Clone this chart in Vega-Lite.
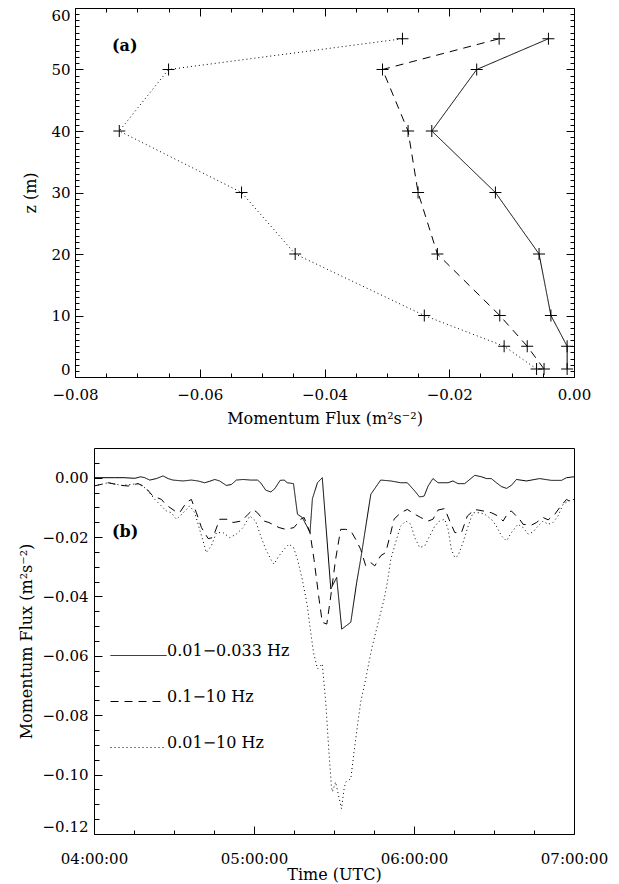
{
  "$schema": "https://vega.github.io/schema/vega-lite/v6.json",
  "padding": {"left": 17, "top": 7, "right": 0, "bottom": 0},
  "config": {
    "font": "DejaVu Serif",
    "view": {"stroke": "black", "strokeWidth": 1},
    "axis": {"domain": false, "grid": false, "tickColor": "black", "tickWidth": 1, "labelColor": "black", "titleColor": "black", "labelFont": "DejaVu Serif", "titleFont": "DejaVu Serif", "labelFontSize": 15, "titleFontSize": 16, "titleFontWeight": "normal", "labelFontWeight": "normal"}
  },
  "datasets": {
    "prof": [
      {"f": -0.0275, "z": 55, "s": "0.01−10 Hz"}, {"f": -0.0650, "z": 50, "s": "0.01−10 Hz"}, {"f": -0.0729, "z": 40, "s": "0.01−10 Hz"}, {"f": -0.0533, "z": 30, "s": "0.01−10 Hz"},
      {"f": -0.0447, "z": 20, "s": "0.01−10 Hz"}, {"f": -0.0240, "z": 10, "s": "0.01−10 Hz"}, {"f": -0.0112, "z": 5, "s": "0.01−10 Hz"}, {"f": -0.0060, "z": 1.3, "s": "0.01−10 Hz"},
      {"f": -0.0120, "z": 55, "s": "0.1−10 Hz"}, {"f": -0.0307, "z": 50, "s": "0.1−10 Hz"}, {"f": -0.0266, "z": 40, "s": "0.1−10 Hz"}, {"f": -0.0250, "z": 30, "s": "0.1−10 Hz"},
      {"f": -0.0219, "z": 20, "s": "0.1−10 Hz"}, {"f": -0.0119, "z": 10, "s": "0.1−10 Hz"}, {"f": -0.0075, "z": 5, "s": "0.1−10 Hz"}, {"f": -0.0048, "z": 1.3, "s": "0.1−10 Hz"},
      {"f": -0.0041, "z": 55, "s": "0.01−0.033 Hz"}, {"f": -0.0156, "z": 50, "s": "0.01−0.033 Hz"}, {"f": -0.0228, "z": 40, "s": "0.01−0.033 Hz"}, {"f": -0.0126, "z": 30, "s": "0.01−0.033 Hz"},
      {"f": -0.0056, "z": 20, "s": "0.01−0.033 Hz"}, {"f": -0.0037, "z": 10, "s": "0.01−0.033 Hz"}, {"f": -0.0011, "z": 5, "s": "0.01−0.033 Hz"}, {"f": -0.0011, "z": 1.3, "s": "0.01−0.033 Hz"}
    ],
    "ts": [
      {"t": 0, "v": 0.0000, "s": "0.01−0.033 Hz"}, {"t": 7.8, "v": 0.0000, "s": "0.01−0.033 Hz"}, {"t": 11.3, "v": 0.0000, "s": "0.01−0.033 Hz"}, {"t": 15.3, "v": -0.0002, "s": "0.01−0.033 Hz"},
      {"t": 17.5, "v": 0.0003, "s": "0.01−0.033 Hz"}, {"t": 19, "v": 0.0000, "s": "0.01−0.033 Hz"}, {"t": 20.9, "v": -0.0008, "s": "0.01−0.033 Hz"}, {"t": 23.4, "v": -0.0003, "s": "0.01−0.033 Hz"},
      {"t": 25.9, "v": 0.0006, "s": "0.01−0.033 Hz"}, {"t": 27.8, "v": -0.0003, "s": "0.01−0.033 Hz"}, {"t": 29.6, "v": -0.0008, "s": "0.01−0.033 Hz"}, {"t": 33.4, "v": -0.0011, "s": "0.01−0.033 Hz"},
      {"t": 36.5, "v": -0.0008, "s": "0.01−0.033 Hz"}, {"t": 39, "v": -0.0011, "s": "0.01−0.033 Hz"}, {"t": 41.5, "v": -0.0017, "s": "0.01−0.033 Hz"}, {"t": 43.4, "v": -0.0012, "s": "0.01−0.033 Hz"},
      {"t": 45.3, "v": -0.0006, "s": "0.01−0.033 Hz"}, {"t": 47.1, "v": -0.0011, "s": "0.01−0.033 Hz"}, {"t": 49.6, "v": -0.0026, "s": "0.01−0.033 Hz"}, {"t": 51.5, "v": -0.0023, "s": "0.01−0.033 Hz"},
      {"t": 53.4, "v": -0.0008, "s": "0.01−0.033 Hz"}, {"t": 55.9, "v": -0.0006, "s": "0.01−0.033 Hz"}, {"t": 58.8, "v": -0.0008, "s": "0.01−0.033 Hz"}, {"t": 61.3, "v": -0.0008, "s": "0.01−0.033 Hz"},
      {"t": 62.5, "v": -0.0017, "s": "0.01−0.033 Hz"}, {"t": 64.4, "v": -0.0042, "s": "0.01−0.033 Hz"}, {"t": 66.3, "v": -0.0048, "s": "0.01−0.033 Hz"}, {"t": 67.8, "v": -0.0037, "s": "0.01−0.033 Hz"},
      {"t": 69.8, "v": -0.0009, "s": "0.01−0.033 Hz"}, {"t": 71.3, "v": -0.0008, "s": "0.01−0.033 Hz"}, {"t": 72.5, "v": -0.0017, "s": "0.01−0.033 Hz"}, {"t": 74.8, "v": -0.0020, "s": "0.01−0.033 Hz"},
      {"t": 76.3, "v": -0.0123, "s": "0.01−0.033 Hz"}, {"t": 78.1, "v": -0.0134, "s": "0.01−0.033 Hz"}, {"t": 79.8, "v": -0.0163, "s": "0.01−0.033 Hz"}, {"t": 81, "v": -0.0185, "s": "0.01−0.033 Hz"},
      {"t": 81.9, "v": -0.0071, "s": "0.01−0.033 Hz"}, {"t": 83.8, "v": -0.0017, "s": "0.01−0.033 Hz"}, {"t": 85.6, "v": 0.0000, "s": "0.01−0.033 Hz"}, {"t": 88.8, "v": -0.0375, "s": "0.01−0.033 Hz"},
      {"t": 91, "v": -0.0336, "s": "0.01−0.033 Hz"}, {"t": 92.9, "v": -0.0510, "s": "0.01−0.033 Hz"}, {"t": 96.3, "v": -0.0487, "s": "0.01−0.033 Hz"}, {"t": 98.5, "v": -0.0353, "s": "0.01−0.033 Hz"},
      {"t": 100, "v": -0.0275, "s": "0.01−0.033 Hz"}, {"t": 103.8, "v": -0.0056, "s": "0.01−0.033 Hz"}, {"t": 107.5, "v": -0.0008, "s": "0.01−0.033 Hz"}, {"t": 111.3, "v": -0.0011, "s": "0.01−0.033 Hz"},
      {"t": 115, "v": -0.0017, "s": "0.01−0.033 Hz"}, {"t": 117.5, "v": -0.0017, "s": "0.01−0.033 Hz"}, {"t": 120.3, "v": -0.0045, "s": "0.01−0.033 Hz"}, {"t": 122.1, "v": -0.0065, "s": "0.01−0.033 Hz"},
      {"t": 123.8, "v": -0.0062, "s": "0.01−0.033 Hz"}, {"t": 125.3, "v": -0.0028, "s": "0.01−0.033 Hz"}, {"t": 127.1, "v": -0.0003, "s": "0.01−0.033 Hz"}, {"t": 129, "v": -0.0017, "s": "0.01−0.033 Hz"},
      {"t": 132.8, "v": -0.0017, "s": "0.01−0.033 Hz"}, {"t": 134.6, "v": -0.0011, "s": "0.01−0.033 Hz"}, {"t": 136.5, "v": -0.0020, "s": "0.01−0.033 Hz"}, {"t": 139, "v": -0.0020, "s": "0.01−0.033 Hz"},
      {"t": 140.9, "v": -0.0006, "s": "0.01−0.033 Hz"}, {"t": 142.8, "v": 0.0008, "s": "0.01−0.033 Hz"}, {"t": 145.3, "v": 0.0003, "s": "0.01−0.033 Hz"}, {"t": 147.2, "v": -0.0003, "s": "0.01−0.033 Hz"},
      {"t": 149, "v": -0.0003, "s": "0.01−0.033 Hz"}, {"t": 150.9, "v": -0.0017, "s": "0.01−0.033 Hz"}, {"t": 152.8, "v": -0.0030, "s": "0.01−0.033 Hz"}, {"t": 154.7, "v": -0.0036, "s": "0.01−0.033 Hz"},
      {"t": 156.5, "v": -0.0026, "s": "0.01−0.033 Hz"}, {"t": 158.4, "v": -0.0006, "s": "0.01−0.033 Hz"}, {"t": 162.2, "v": -0.0011, "s": "0.01−0.033 Hz"}, {"t": 167.1, "v": -0.0003, "s": "0.01−0.033 Hz"},
      {"t": 171.5, "v": -0.0009, "s": "0.01−0.033 Hz"}, {"t": 175.3, "v": -0.0009, "s": "0.01−0.033 Hz"}, {"t": 177.2, "v": 0.0000, "s": "0.01−0.033 Hz"}, {"t": 180, "v": 0.0003, "s": "0.01−0.033 Hz"},

      {"t": 0, "v": -0.0028, "s": "0.1−10 Hz"}, {"t": 5.3, "v": -0.0017, "s": "0.1−10 Hz"}, {"t": 10.3, "v": -0.0026, "s": "0.1−10 Hz"}, {"t": 12.8, "v": -0.0028, "s": "0.1−10 Hz"},
      {"t": 16.5, "v": -0.0020, "s": "0.1−10 Hz"}, {"t": 19, "v": -0.0030, "s": "0.1−10 Hz"}, {"t": 22.1, "v": -0.0062, "s": "0.1−10 Hz"}, {"t": 25.3, "v": -0.0073, "s": "0.1−10 Hz"},
      {"t": 26.8, "v": -0.0090, "s": "0.1−10 Hz"}, {"t": 30.3, "v": -0.0112, "s": "0.1−10 Hz"}, {"t": 32.1, "v": -0.0118, "s": "0.1−10 Hz"}, {"t": 34.6, "v": -0.0084, "s": "0.1−10 Hz"},
      {"t": 36.5, "v": -0.0073, "s": "0.1−10 Hz"}, {"t": 38.4, "v": -0.0118, "s": "0.1−10 Hz"}, {"t": 40.3, "v": -0.0168, "s": "0.1−10 Hz"}, {"t": 42.8, "v": -0.0205, "s": "0.1−10 Hz"},
      {"t": 44.6, "v": -0.0202, "s": "0.1−10 Hz"}, {"t": 47.1, "v": -0.0140, "s": "0.1−10 Hz"}, {"t": 50.3, "v": -0.0140, "s": "0.1−10 Hz"}, {"t": 52.1, "v": -0.0151, "s": "0.1−10 Hz"},
      {"t": 55.3, "v": -0.0146, "s": "0.1−10 Hz"}, {"t": 57.8, "v": -0.0123, "s": "0.1−10 Hz"}, {"t": 59.6, "v": -0.0107, "s": "0.1−10 Hz"}, {"t": 61.3, "v": -0.0118, "s": "0.1−10 Hz"},
      {"t": 63.8, "v": -0.0146, "s": "0.1−10 Hz"}, {"t": 65.6, "v": -0.0151, "s": "0.1−10 Hz"}, {"t": 69.4, "v": -0.0168, "s": "0.1−10 Hz"}, {"t": 71.9, "v": -0.0174, "s": "0.1−10 Hz"},
      {"t": 75, "v": -0.0168, "s": "0.1−10 Hz"}, {"t": 77.5, "v": -0.0140, "s": "0.1−10 Hz"}, {"t": 78.8, "v": -0.0134, "s": "0.1−10 Hz"}, {"t": 81, "v": -0.0185, "s": "0.1−10 Hz"},
      {"t": 82.5, "v": -0.0275, "s": "0.1−10 Hz"}, {"t": 84.4, "v": -0.0409, "s": "0.1−10 Hz"}, {"t": 85.6, "v": -0.0487, "s": "0.1−10 Hz"}, {"t": 87.3, "v": -0.0493, "s": "0.1−10 Hz"},
      {"t": 88.8, "v": -0.0398, "s": "0.1−10 Hz"}, {"t": 90.6, "v": -0.0275, "s": "0.1−10 Hz"}, {"t": 92.5, "v": -0.0174, "s": "0.1−10 Hz"}, {"t": 94.4, "v": -0.0174, "s": "0.1−10 Hz"},
      {"t": 96.3, "v": -0.0179, "s": "0.1−10 Hz"}, {"t": 98.1, "v": -0.0207, "s": "0.1−10 Hz"}, {"t": 100, "v": -0.0241, "s": "0.1−10 Hz"}, {"t": 101.9, "v": -0.0297, "s": "0.1−10 Hz"},
      {"t": 103.8, "v": -0.0286, "s": "0.1−10 Hz"}, {"t": 105.3, "v": -0.0297, "s": "0.1−10 Hz"}, {"t": 107.5, "v": -0.0263, "s": "0.1−10 Hz"}, {"t": 109.4, "v": -0.0252, "s": "0.1−10 Hz"},
      {"t": 111.3, "v": -0.0185, "s": "0.1−10 Hz"}, {"t": 112.5, "v": -0.0140, "s": "0.1−10 Hz"}, {"t": 115, "v": -0.0118, "s": "0.1−10 Hz"}, {"t": 117.5, "v": -0.0107, "s": "0.1−10 Hz"},
      {"t": 120.3, "v": -0.0123, "s": "0.1−10 Hz"}, {"t": 122.5, "v": -0.0134, "s": "0.1−10 Hz"}, {"t": 125.3, "v": -0.0146, "s": "0.1−10 Hz"}, {"t": 127.1, "v": -0.0140, "s": "0.1−10 Hz"},
      {"t": 129, "v": -0.0109, "s": "0.1−10 Hz"}, {"t": 131.5, "v": -0.0104, "s": "0.1−10 Hz"}, {"t": 133.4, "v": -0.0146, "s": "0.1−10 Hz"}, {"t": 135.3, "v": -0.0185, "s": "0.1−10 Hz"},
      {"t": 137.8, "v": -0.0185, "s": "0.1−10 Hz"}, {"t": 140, "v": -0.0129, "s": "0.1−10 Hz"}, {"t": 142.8, "v": -0.0107, "s": "0.1−10 Hz"}, {"t": 145.9, "v": -0.0112, "s": "0.1−10 Hz"},
      {"t": 149, "v": -0.0118, "s": "0.1−10 Hz"}, {"t": 151.5, "v": -0.0129, "s": "0.1−10 Hz"}, {"t": 153.4, "v": -0.0146, "s": "0.1−10 Hz"}, {"t": 155.3, "v": -0.0118, "s": "0.1−10 Hz"},
      {"t": 156.5, "v": -0.0112, "s": "0.1−10 Hz"}, {"t": 159.6, "v": -0.0140, "s": "0.1−10 Hz"}, {"t": 160.9, "v": -0.0157, "s": "0.1−10 Hz"}, {"t": 164, "v": -0.0160, "s": "0.1−10 Hz"},
      {"t": 165.9, "v": -0.0151, "s": "0.1−10 Hz"}, {"t": 168.4, "v": -0.0134, "s": "0.1−10 Hz"}, {"t": 170.3, "v": -0.0142, "s": "0.1−10 Hz"}, {"t": 172.8, "v": -0.0123, "s": "0.1−10 Hz"},
      {"t": 174.6, "v": -0.0101, "s": "0.1−10 Hz"}, {"t": 177.2, "v": -0.0073, "s": "0.1−10 Hz"}, {"t": 179, "v": -0.0084, "s": "0.1−10 Hz"}, {"t": 180, "v": -0.0082, "s": "0.1−10 Hz"},

      {"t": 0, "v": -0.0028, "s": "0.01−10 Hz"}, {"t": 5.3, "v": -0.0017, "s": "0.01−10 Hz"}, {"t": 10.3, "v": -0.0026, "s": "0.01−10 Hz"}, {"t": 16.5, "v": -0.0020, "s": "0.01−10 Hz"},
      {"t": 19.6, "v": -0.0037, "s": "0.01−10 Hz"}, {"t": 22.8, "v": -0.0073, "s": "0.01−10 Hz"}, {"t": 27.1, "v": -0.0112, "s": "0.01−10 Hz"}, {"t": 29, "v": -0.0118, "s": "0.01−10 Hz"},
      {"t": 30.9, "v": -0.0140, "s": "0.01−10 Hz"}, {"t": 33, "v": -0.0123, "s": "0.01−10 Hz"}, {"t": 35.9, "v": -0.0095, "s": "0.01−10 Hz"}, {"t": 37.8, "v": -0.0118, "s": "0.01−10 Hz"},
      {"t": 39.6, "v": -0.0174, "s": "0.01−10 Hz"}, {"t": 40.9, "v": -0.0213, "s": "0.01−10 Hz"}, {"t": 42.1, "v": -0.0252, "s": "0.01−10 Hz"}, {"t": 44, "v": -0.0230, "s": "0.01−10 Hz"},
      {"t": 45.9, "v": -0.0185, "s": "0.01−10 Hz"}, {"t": 48.4, "v": -0.0185, "s": "0.01−10 Hz"}, {"t": 50.9, "v": -0.0202, "s": "0.01−10 Hz"}, {"t": 53.4, "v": -0.0190, "s": "0.01−10 Hz"},
      {"t": 55.9, "v": -0.0168, "s": "0.01−10 Hz"}, {"t": 58.4, "v": -0.0129, "s": "0.01−10 Hz"}, {"t": 60.6, "v": -0.0146, "s": "0.01−10 Hz"}, {"t": 62.5, "v": -0.0196, "s": "0.01−10 Hz"},
      {"t": 64.4, "v": -0.0241, "s": "0.01−10 Hz"}, {"t": 66.3, "v": -0.0275, "s": "0.01−10 Hz"}, {"t": 67.5, "v": -0.0291, "s": "0.01−10 Hz"}, {"t": 69.4, "v": -0.0263, "s": "0.01−10 Hz"},
      {"t": 71.3, "v": -0.0241, "s": "0.01−10 Hz"}, {"t": 73.1, "v": -0.0224, "s": "0.01−10 Hz"}, {"t": 74.8, "v": -0.0235, "s": "0.01−10 Hz"}, {"t": 76.3, "v": -0.0275, "s": "0.01−10 Hz"},
      {"t": 78.1, "v": -0.0342, "s": "0.01−10 Hz"}, {"t": 80, "v": -0.0431, "s": "0.01−10 Hz"}, {"t": 80.6, "v": -0.0476, "s": "0.01−10 Hz"}, {"t": 82.3, "v": -0.0588, "s": "0.01−10 Hz"},
      {"t": 83.8, "v": -0.0644, "s": "0.01−10 Hz"}, {"t": 85.6, "v": -0.0627, "s": "0.01−10 Hz"}, {"t": 86.9, "v": -0.0756, "s": "0.01−10 Hz"}, {"t": 88.1, "v": -0.0924, "s": "0.01−10 Hz"},
      {"t": 89, "v": -0.1036, "s": "0.01−10 Hz"}, {"t": 89.4, "v": -0.1058, "s": "0.01−10 Hz"}, {"t": 90.6, "v": -0.1025, "s": "0.01−10 Hz"}, {"t": 92.8, "v": -0.1115, "s": "0.01−10 Hz"},
      {"t": 93.8, "v": -0.1047, "s": "0.01−10 Hz"}, {"t": 94.4, "v": -0.1025, "s": "0.01−10 Hz"}, {"t": 96.3, "v": -0.1014, "s": "0.01−10 Hz"}, {"t": 97.5, "v": -0.0924, "s": "0.01−10 Hz"},
      {"t": 98.8, "v": -0.0835, "s": "0.01−10 Hz"}, {"t": 100, "v": -0.0756, "s": "0.01−10 Hz"}, {"t": 101.9, "v": -0.0678, "s": "0.01−10 Hz"}, {"t": 103.1, "v": -0.0622, "s": "0.01−10 Hz"},
      {"t": 104.4, "v": -0.0566, "s": "0.01−10 Hz"}, {"t": 106.9, "v": -0.0476, "s": "0.01−10 Hz"}, {"t": 108.8, "v": -0.0409, "s": "0.01−10 Hz"}, {"t": 110, "v": -0.0353, "s": "0.01−10 Hz"},
      {"t": 111.3, "v": -0.0275, "s": "0.01−10 Hz"}, {"t": 113.1, "v": -0.0218, "s": "0.01−10 Hz"}, {"t": 115, "v": -0.0163, "s": "0.01−10 Hz"}, {"t": 116.9, "v": -0.0146, "s": "0.01−10 Hz"},
      {"t": 118.8, "v": -0.0157, "s": "0.01−10 Hz"}, {"t": 120.3, "v": -0.0202, "s": "0.01−10 Hz"}, {"t": 122.1, "v": -0.0235, "s": "0.01−10 Hz"}, {"t": 124, "v": -0.0230, "s": "0.01−10 Hz"},
      {"t": 125.9, "v": -0.0196, "s": "0.01−10 Hz"}, {"t": 127.8, "v": -0.0163, "s": "0.01−10 Hz"}, {"t": 129.6, "v": -0.0146, "s": "0.01−10 Hz"}, {"t": 131.5, "v": -0.0140, "s": "0.01−10 Hz"},
      {"t": 132.8, "v": -0.0174, "s": "0.01−10 Hz"}, {"t": 134, "v": -0.0241, "s": "0.01−10 Hz"}, {"t": 135.3, "v": -0.0269, "s": "0.01−10 Hz"}, {"t": 136.5, "v": -0.0263, "s": "0.01−10 Hz"},
      {"t": 138.4, "v": -0.0218, "s": "0.01−10 Hz"}, {"t": 140.3, "v": -0.0163, "s": "0.01−10 Hz"}, {"t": 142.1, "v": -0.0118, "s": "0.01−10 Hz"}, {"t": 144.6, "v": -0.0118, "s": "0.01−10 Hz"},
      {"t": 146.5, "v": -0.0123, "s": "0.01−10 Hz"}, {"t": 149, "v": -0.0140, "s": "0.01−10 Hz"}, {"t": 150.9, "v": -0.0163, "s": "0.01−10 Hz"}, {"t": 152.8, "v": -0.0196, "s": "0.01−10 Hz"},
      {"t": 154.7, "v": -0.0213, "s": "0.01−10 Hz"}, {"t": 156.5, "v": -0.0185, "s": "0.01−10 Hz"}, {"t": 159, "v": -0.0157, "s": "0.01−10 Hz"}, {"t": 160.9, "v": -0.0168, "s": "0.01−10 Hz"},
      {"t": 162.8, "v": -0.0190, "s": "0.01−10 Hz"}, {"t": 164.6, "v": -0.0183, "s": "0.01−10 Hz"}, {"t": 166.5, "v": -0.0163, "s": "0.01−10 Hz"}, {"t": 168.4, "v": -0.0146, "s": "0.01−10 Hz"},
      {"t": 170.3, "v": -0.0157, "s": "0.01−10 Hz"}, {"t": 172.1, "v": -0.0151, "s": "0.01−10 Hz"}, {"t": 174, "v": -0.0129, "s": "0.01−10 Hz"}, {"t": 175.9, "v": -0.0090, "s": "0.01−10 Hz"},
      {"t": 177.8, "v": -0.0079, "s": "0.01−10 Hz"}, {"t": 180, "v": -0.0073, "s": "0.01−10 Hz"}
    ]
  },
  "spacing": 18,
  "resolve": {"scale": {"strokeDash": "independent"}},
  "vconcat": [
    {
      "width": 499,
      "height": 369,
      "data": {"name": "prof"},
      "title": {"text": "(a)", "anchor": "start", "frame": "group", "orient": "top", "offset": 0, "baseline": "top", "dx": 37, "dy": 46, "fontSize": 16, "fontWeight": "bold", "font": "DejaVu Serif", "color": "black"},
      "layer": [
        {
          "mark": {"type": "line", "color": "black", "strokeWidth": 1},
          "encoding": {
            "x": {"field": "f", "type": "quantitative", "scale": {"domain": [-0.08, 0], "nice": false, "zero": false},
                  "axis": {"orient": "bottom", "values": [-0.08, -0.06, -0.04, -0.02, 0], "format": ".2f", "tickSize": -8, "labelPadding": 18, "labelFlush": false, "title": "Momentum Flux (m²s⁻²)", "titlePadding": 8}},
            "y": {"field": "z", "type": "quantitative", "scale": {"domain": [0, 60], "nice": false, "zero": false},
                  "axis": {"orient": "left", "values": [0, 10, 20, 30, 40, 50, 60], "format": "d", "tickSize": -8, "labelPadding": 13, "labelFlush": 2, "title": "z (m)", "titlePadding": 12}},
            "strokeDash": {"field": "s", "type": "nominal", "legend": null,
                           "scale": {"domain": ["0.01−0.033 Hz", "0.1−10 Hz", "0.01−10 Hz"], "range": [[1, 0], [8, 6], [1, 3]]}},
            "order": {"field": "z", "type": "quantitative"}
          }
        },
        {
          "mark": {"type": "point", "shape": "M-1,0H1M0,-1V1", "size": 144, "filled": false, "color": "black", "strokeWidth": 1, "opacity": 1},
          "encoding": {
            "x": {"field": "f", "type": "quantitative", "axis": {"orient": "top", "values": [-0.08, -0.06, -0.04, -0.02, 0], "tickSize": -8, "labels": false, "title": null}},
            "y": {"field": "z", "type": "quantitative", "axis": {"orient": "right", "values": [0, 10, 20, 30, 40, 50, 60], "tickSize": -8, "labels": false, "title": null}}
          }
        },
        {
          "mark": {"type": "point", "opacity": 0},
          "encoding": {
            "x": {"field": "f", "type": "quantitative", "axis": {"orient": "bottom", "values": [-0.075, -0.07, -0.065, -0.055, -0.05, -0.045, -0.035, -0.03, -0.025, -0.015, -0.01, -0.005], "tickSize": -4, "labels": false, "title": null}},
            "y": {"field": "z", "type": "quantitative", "axis": {"orient": "left", "values": [1,2,3,4,5,6,7,8,9,11,12,13,14,15,16,17,18,19,21,22,23,24,25,26,27,28,29,31,32,33,34,35,36,37,38,39,41,42,43,44,45,46,47,48,49,51,52,53,54,55,56,57,58,59], "tickSize": -4, "labels": false, "title": null}}
          }
        },
        {
          "mark": {"type": "point", "opacity": 0},
          "encoding": {
            "x": {"field": "f", "type": "quantitative", "axis": {"orient": "top", "values": [-0.075, -0.07, -0.065, -0.055, -0.05, -0.045, -0.035, -0.03, -0.025, -0.015, -0.01, -0.005], "tickSize": -4, "labels": false, "title": null}},
            "y": {"field": "z", "type": "quantitative", "axis": {"orient": "right", "values": [1,2,3,4,5,6,7,8,9,11,12,13,14,15,16,17,18,19,21,22,23,24,25,26,27,28,29,31,32,33,34,35,36,37,38,39,41,42,43,44,45,46,47,48,49,51,52,53,54,55,56,57,58,59], "tickSize": -4, "labels": false, "title": null}}
          }
        }
      ],
      "resolve": {"axis": {"x": "independent", "y": "independent"}}
    },
    {
      "spacing": 18,
      "bounds": "flush",
      "resolve": {"scale": {"strokeDash": "independent"}},
      "hconcat": [
        {
          "width": 1,
          "height": 1,
          "data": {"values": [{"k": 0}]},
          "mark": {"type": "point", "opacity": 0},
          "view": {"stroke": null}
        },
        {
          "width": 480,
          "height": 386,
          "data": {"name": "ts"},
          "title": {"text": "(b)", "anchor": "start", "frame": "group", "orient": "top", "offset": 0, "baseline": "top", "dx": 18, "dy": 92, "fontSize": 16, "fontWeight": "bold", "font": "DejaVu Serif", "color": "black"},
          "layer": [
            {
              "mark": {"type": "line", "color": "black", "strokeWidth": 1},
              "encoding": {
                "x": {"field": "t", "type": "quantitative", "scale": {"domain": [0, 180], "nice": false, "zero": false},
                      "axis": {"orient": "bottom", "values": [0, 60, 120, 180], "labelExpr": "'0' + (4 + datum.value / 60) + ':00:00'", "tickSize": -8, "labelPadding": 25, "labelFlush": false, "title": "Time (UTC)", "titlePadding": 0}},
                "y": {"field": "v", "type": "quantitative", "scale": {"domain": [-0.12, 0.01], "nice": false, "zero": false},
                      "axis": {"orient": "left", "values": [-0.12, -0.1, -0.08, -0.06, -0.04, -0.02, 0], "format": ".2f", "tickSize": -8, "labelPadding": 14, "labelFlush": 2, "title": "Momentum Flux (m²s⁻²)", "titlePadding": 8}},
                "strokeDash": {"field": "s", "type": "nominal",
                               "scale": {"domain": ["0.01−0.033 Hz", "0.1−10 Hz", "0.01−10 Hz"], "range": [[1, 0], [8, 6], [1, 3]]},
                               "legend": {"orient": "none", "legendX": 44, "legendY": 193, "title": null, "padding": 0,
                                          "symbolType": "M-3,0H1", "symbolSize": 784, "symbolStrokeWidth": 1, "symbolStrokeColor": "black", "symbolFillColor": "transparent",
                                          "labelFont": "DejaVu Serif", "labelFontSize": 16, "labelColor": "black", "labelOffset": 0, "rowPadding": 28, "labelBaseline": "alphabetic"}}
              }
            },
            {
              "mark": {"type": "point", "opacity": 0},
              "encoding": {
                "x": {"field": "t", "type": "quantitative", "axis": {"orient": "bottom", "values": [15, 30, 45, 75, 90, 105, 135, 150, 165], "tickSize": -4, "labels": false, "title": null}},
                "y": {"field": "v", "type": "quantitative", "axis": {"orient": "left", "values": [-0.115, -0.11, -0.105, -0.095, -0.09, -0.085, -0.075, -0.07, -0.065, -0.055, -0.05, -0.045, -0.035, -0.03, -0.025, -0.015, -0.01, -0.005, 0.005], "tickSize": -5, "labels": false, "title": null}}
              }
            }
          ],
          "resolve": {"axis": {"x": "independent", "y": "independent"}}
        }
      ]
    }
  ]
}
